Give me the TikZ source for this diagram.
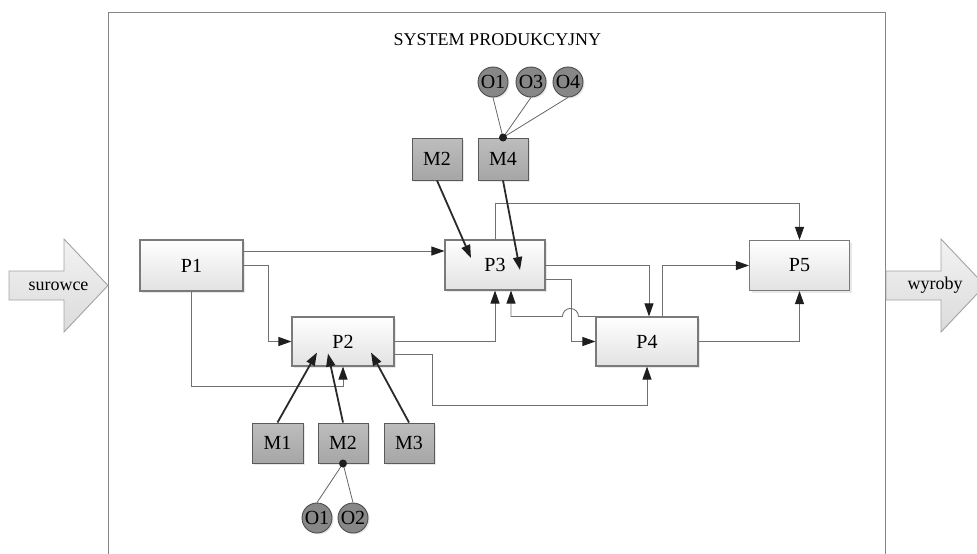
\documentclass[tikz,border=0pt]{standalone}
\usepackage{fontspec}
\setmainfont{Liberation Serif}
\usetikzlibrary{arrows.meta,calc,shadows}
\definecolor{linegray}{HTML}{707070}
\definecolor{tipcol}{HTML}{1E1E1E}
\definecolor{thickcol}{HTML}{2A2A2A}
\definecolor{pborder}{HTML}{7A7A7A}
\definecolor{pbottom}{HTML}{E2E2E2}
\definecolor{mtop}{HTML}{BDBDBD}
\definecolor{mbottom}{HTML}{A6A6A6}
\definecolor{mborder}{HTML}{5A5A5A}
\definecolor{ofill}{HTML}{878787}
\definecolor{oborder}{HTML}{4A4A4A}
\definecolor{framecol}{HTML}{858585}
\definecolor{arrowborder}{HTML}{A3A3A3}
\newcommand\lblfont{\fontsize{20}{23}\selectfont}
\newcommand\ttlfont{\fontsize{18}{21}\selectfont}
\begin{document}
\begin{tikzpicture}[x=1pt,y=-1pt,
  tipA/.tip={Triangle[length=13pt,width=9pt,color=tipcol]},
  pbox/.style={draw=pborder, line width=1.1pt, top color=white, bottom color=pbottom,
    inner sep=0pt, font=\lblfont,
    drop shadow={shadow xshift=2pt, shadow yshift=-2pt, opacity=0.18}},
  mbox/.style={draw=mborder, line width=1pt, top color=mtop, bottom color=mbottom,
    inner sep=0pt, font=\lblfont,
    drop shadow={shadow xshift=2pt, shadow yshift=-2pt, opacity=0.18}},
  obj/.style={circle, draw=oborder, line width=0.9pt, fill=ofill, minimum size=30pt,
    inner sep=0pt, font=\lblfont,
    drop shadow={shadow xshift=1.5pt, shadow yshift=-1.5pt, opacity=0.18}},
  dotn/.style={circle, fill=tipcol, minimum size=8pt, inner sep=0pt},
  conn/.style={draw=linegray, line width=0.9pt, -tipA},
  mconn/.style={draw=thickcol, line width=1.8pt, -tipA},
  olink/.style={draw=linegray!90!black, line width=0.8pt},
  bigarrow/.style={draw=arrowborder, line width=0.9pt, top color=white!95!black, bottom color=white!86!black},
  frame/.style={draw=framecol, line width=1pt}
]
\useasboundingbox (0,0) rectangle (977,554);

% frame of the system
\draw[frame] (108,560) -- (108,12) -- (885,12) -- (885,560);
\node[font=\ttlfont, anchor=base] (title) at (497.5,45) {SYSTEM PRODUKCYJNY};

% input / output arrows
\path[bigarrow] (9,271) -- (64,271) -- (64,239) -- (108,285.5) -- (64,332) -- (64,300) -- (9,300) -- cycle;
\node[font=\ttlfont] (surowce) at (58.5,286) {surowce};
\path[bigarrow] (886,271) -- (941,271) -- (941,239) -- (985,285.5) -- (941,332) -- (941,300) -- (886,300) -- cycle;
\node[font=\ttlfont] (wyroby) at (935,285.5) {wyroby};

% processes
\node[pbox, minimum width=103pt, minimum height=51pt] (P1) at (191.5,265.5) {P1};
\node[pbox, minimum width=102pt, minimum height=49pt] (P2) at (343,341.5) {P2};
\node[pbox, minimum width=100pt, minimum height=50pt] (P3) at (495,265) {P3};
\node[pbox, minimum width=102pt, minimum height=49pt] (P4) at (647,341.5) {P4};
\node[pbox, minimum width=100pt, minimum height=50pt] (P5) at (799.5,265.5) {P5};

% machines
\node[mbox, minimum width=50pt, minimum height=42pt] (M2t) at (437,159) {M2};
\node[mbox, minimum width=50pt, minimum height=42pt] (M4) at (503,159) {M4};
\node[mbox, minimum width=51pt, minimum height=40pt] (M1) at (277.5,443) {M1};
\node[mbox, minimum width=50pt, minimum height=40pt] (M2b) at (343,443) {M2};
\node[mbox, minimum width=50pt, minimum height=40pt] (M3) at (409,443) {M3};

% operators
\node[obj] (O1t) at (493,82) {O1};
\node[obj] (O3t) at (531,82) {O3};
\node[obj] (O4t) at (568,82) {O4};
\node[obj] (O1b) at (317,518) {O1};
\node[obj] (O2b) at (353,518) {O2};

\draw[olink] (M4.north) -- (O1t.south);
\draw[olink] (M4.north) -- (O3t.south);
\draw[olink] (M4.north) -- (O4t.south);
\draw[olink] (M2b.south) -- (O1b.north);
\draw[olink] (M2b.south) -- (O2b.north);
\node[dotn] (d4) at (M4.north) {};
\node[dotn] (d2) at (M2b.south) {};

% material flow
\draw[conn] ([yshift=14.5pt]P1.east) -- ([yshift=14.5pt]P1.east -| P3.west);
\draw[conn] (P1.east) -- ++(25,0) |- (P2.west);
\draw[conn] (P1.south) -- ++(0,95) -| (P2.south);
\draw[conn] (P2.east) -| (P3.south);
\draw[conn] ([yshift=-12.5pt]P2.east) -- ++(38,0) -- ++(0,51) -| (P4.south);
\draw[conn] ([yshift=-14pt]P3.east) -- ++(26,0) |- (P4.west);
\draw[conn] (P4.north west) -- ++(-17,0) arc[start angle=0, end angle=180, radius=8pt] -| ([xshift=16pt]P3.south);
\draw[conn] (P3.east) -| ([xshift=2pt]P4.north);
\draw[conn] (P3.north) -- ++(0,-36) -| (P5.north);
\draw[conn] ([xshift=15pt]P4.north) |- (P5.west);
\draw[conn] (P4.east) -| (P5.south);

% machines acting on processes
\coordinate (tM2t) at ($(P3.center)+(-24,-7)$);
\coordinate (tM4) at ($(P3.center)+(25,5)$);
\coordinate (tM1) at ($(P2.center)+(-26,11)$);
\coordinate (tM2b) at ($(P2.center)+(-15,12)$);
\coordinate (tM3) at ($(P2.center)+(28,11)$);
\draw[mconn] (M2t.south) -- (tM2t);
\draw[mconn] (M4.south) -- (tM4);
\draw[mconn] (M1.north) -- (tM1);
\draw[mconn] (M2b.north) -- (tM2b);
\draw[mconn] (M3.north) -- (tM3);
\end{tikzpicture}
\end{document}
